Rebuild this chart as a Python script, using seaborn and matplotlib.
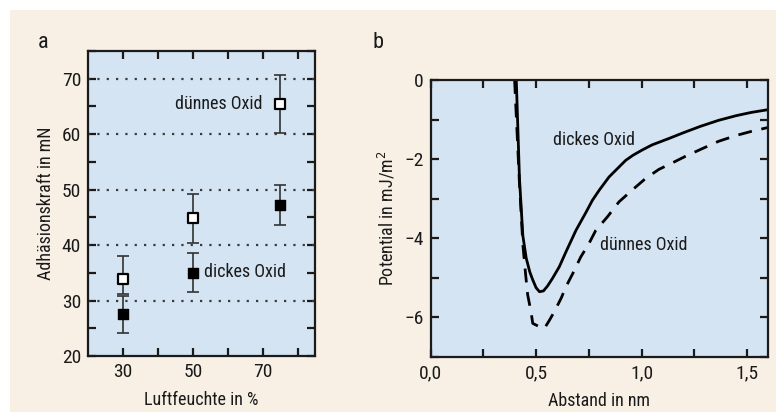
import matplotlib
matplotlib.use('Agg')
import matplotlib.pyplot as plt
import seaborn as sns
import pandas as pd
from matplotlib.patches import Rectangle
from matplotlib.ticker import MultipleLocator, FuncFormatter
from matplotlib import font_manager

# panel a: adhesion force vs humidity
humidity = [30, 50, 75]
thin_force = [33.9, 44.8, 65.5]
thin_err_lo = [2.7, 4.5, 5.2]
thin_err_hi = [4.1, 4.5, 5.2]
thick_force = [27.6, 35.0, 47.2]
thick_err_lo = [3.4, 3.4, 3.5]
thick_err_hi = [3.3, 3.5, 3.7]

# panel b: potential vs distance
dist_thick = [0.406, 0.421, 0.437, 0.453, 0.470, 0.484, 0.500, 0.516, 0.535, 0.555, 0.578,
              0.610, 0.641, 0.689, 0.736, 0.767, 0.800, 0.846, 0.893, 0.925, 0.960, 1.003,
              1.050, 1.129, 1.200, 1.280, 1.365, 1.450, 1.520, 1.600]
pot_thick = [0.0, -2.48, -3.93, -4.50, -4.85, -5.05, -5.25, -5.35, -5.33, -5.20, -5.01,
             -4.72, -4.35, -3.80, -3.35, -3.04, -2.78, -2.45, -2.20, -2.03, -1.90, -1.77,
             -1.64, -1.48, -1.33, -1.17, -1.02, -0.90, -0.82, -0.75]
dist_thin = [0.398, 0.420, 0.437, 0.450, 0.460, 0.476, 0.484, 0.510, 0.539, 0.560, 0.586,
             0.620, 0.641, 0.673, 0.712, 0.751, 0.783, 0.838, 0.893, 0.956, 1.019, 1.082,
             1.144, 1.208, 1.290, 1.365, 1.450, 1.520, 1.600]
pot_thin = [0.0, -2.50, -4.15, -4.90, -5.43, -5.86, -6.15, -6.22, -6.28, -6.10, -5.86,
            -5.50, -5.23, -4.90, -4.47, -4.13, -3.80, -3.46, -3.08, -2.78, -2.49, -2.26,
            -2.10, -1.93, -1.73, -1.55, -1.40, -1.30, -1.20]

sns.set_style('ticks')
names = {f.name for f in font_manager.fontManager.ttflist}
cond = [n for n in ['Roboto Condensed', 'Open Sans Condensed', 'Liberation Sans Narrow',
                    'DejaVu Sans Condensed'] if n in names]
plt.rcParams['font.family'] = cond + ['DejaVu Sans']
plt.rcParams['font.stretch'] = 'condensed'
plt.rcParams['axes.linewidth'] = 1.6

bg = '#f8f0e5'
panel = '#d4e4f2'
ink = '#1a1a1a'
fs = 13

fig = plt.figure(figsize=(7.76, 4.12), dpi=100, facecolor='white')
fig.patches.append(Rectangle((10/776, 0), 1, 402/412, transform=fig.transFigure,
                             facecolor=bg, edgecolor='none', zorder=-10))

ax1 = fig.add_axes([88/776, 1-356/412, 227/776, 305/412])
ax2 = fig.add_axes([430.7/776, 1-357/412, 337.3/776, 277/412])

for ax in (ax1, ax2):
    ax.set_facecolor(panel)
    ax.tick_params(which='both', direction='in', top=True, right=True,
                   width=1.6, length=6, labelsize=14, pad=5, colors=ink)
    for s in ax.spines.values():
        s.set_color(ink)

# ---- panel a
df_a = pd.DataFrame({'humidity': humidity * 2,
                     'force': thin_force + thick_force,
                     'oxide': ['thin'] * 3 + ['thick'] * 3})
ax1.errorbar(humidity, thin_force, yerr=[thin_err_lo, thin_err_hi], fmt='none',
             ecolor='#333333', elinewidth=1.2, capsize=4, capthick=1.2, zorder=3)
ax1.errorbar(humidity, thick_force, yerr=[thick_err_lo, thick_err_hi], fmt='none',
             ecolor='#333333', elinewidth=1.2, capsize=4, capthick=1.2, zorder=3)
sns.scatterplot(data=df_a[df_a.oxide == 'thin'], x='humidity', y='force', ax=ax1,
                marker='s', s=45, color='white', edgecolor='black', linewidth=1.6, zorder=4)
sns.scatterplot(data=df_a[df_a.oxide == 'thick'], x='humidity', y='force', ax=ax1,
                marker='s', s=60, color='black', edgecolor='black', linewidth=1, zorder=4)
ax1.set_xlim(20, 85)
ax1.set_ylim(20, 75)
ax1.set_xticks([30, 50, 70])
ax1.set_xticks([40, 60, 80], minor=True)
ax1.yaxis.set_major_locator(MultipleLocator(10))
ax1.yaxis.set_minor_locator(MultipleLocator(5))
for yv in [30, 40, 50, 60, 70]:
    ax1.axhline(yv, color='#3a3a3a', lw=1.6, ls=(0, (1, 3.2)), zorder=1)
ax1.set_xlabel('Luftfeuchte in %', fontsize=fs, labelpad=7, color=ink)
ax1.set_ylabel('Adhäsionskraft in mN', fontsize=fs, labelpad=5, color=ink)
ax1.text(57.4, 65.5, 'dünnes Oxid', fontsize=fs, ha='center', va='center', color=ink)
ax1.text(65, 35.2, 'dickes Oxid', fontsize=fs, ha='center', va='center', color=ink)

# ---- panel b
df_thick = pd.DataFrame({'dist': dist_thick, 'pot': pot_thick})
df_thin = pd.DataFrame({'dist': dist_thin, 'pot': pot_thin})
sns.lineplot(data=df_thick, x='dist', y='pot', ax=ax2, sort=False, color='black', lw=2)
sns.lineplot(data=df_thin, x='dist', y='pot', ax=ax2, sort=False, color='black', lw=2)
ax2.lines[-1].set_dashes([5, 3.5])
ax2.set_xlim(0, 1.6)
ax2.set_ylim(-7, 0)
ax2.xaxis.set_major_locator(MultipleLocator(0.5))
ax2.xaxis.set_minor_locator(MultipleLocator(0.25))
ax2.yaxis.set_major_locator(MultipleLocator(2))
ax2.yaxis.set_minor_locator(MultipleLocator(1))
ax2.xaxis.set_major_formatter(FuncFormatter(lambda v, p: f'{v:.1f}'.replace('.', ',')))
ax2.yaxis.set_major_formatter(FuncFormatter(lambda v, p: f'{v:.0f}'.replace('-', '\u2212')))
ax2.set_xlabel('Abstand in nm', fontsize=fs, labelpad=7, color=ink)
ax2.set_ylabel('Potential in mJ/m$^2$', fontsize=fs, labelpad=5, color=ink)
ax2.text(0.775, -1.52, 'dickes Oxid', fontsize=fs, ha='center', va='center', color=ink)
ax2.text(1.01, -4.18, 'dünnes Oxid', fontsize=fs, ha='center', va='center', color=ink)

fig.text(43/776, 1-43/412, 'a', fontsize=16, ha='center', va='center', color=ink)
fig.text(378/776, 1-43/412, 'b', fontsize=16, ha='center', va='center', color=ink)

fig.savefig('out.png', dpi=100, facecolor=fig.get_facecolor())
